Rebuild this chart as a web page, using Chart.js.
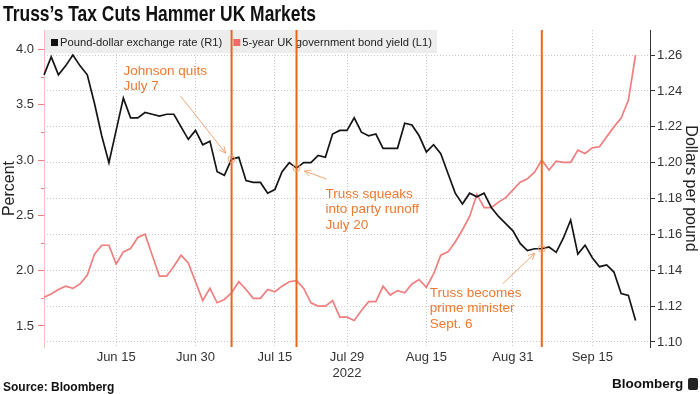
<!DOCTYPE html>
<html>
<head>
<meta charset="utf-8">
<script src="https://cdn.jsdelivr.net/npm/chart.js@4/dist/chart.umd.min.js"></script>
<style>
html,body{margin:0;padding:0;background:#fff;}
#wrap{position:relative;width:700px;height:394px;overflow:hidden;font-family:'Liberation Sans',Arial,sans-serif;}
#c{position:absolute;left:0;top:0;}
#title{position:absolute;left:3px;top:1px;font-weight:bold;font-size:22.5px;color:#111;white-space:nowrap;transform:scaleX(0.775);transform-origin:0 0;}
#source{position:absolute;left:3px;top:380px;font-weight:bold;font-size:12px;color:#111;white-space:nowrap;}
#brand{position:absolute;left:612px;top:376px;font-weight:bold;font-size:13.5px;color:#111;white-space:nowrap;}
#icon{position:absolute;left:688px;top:378px;width:10px;height:12px;background:#222;border-radius:2px;}
</style>
</head>
<body>
<div id="wrap">
<canvas id="c" width="700" height="394"></canvas>
<div id="title">Truss’s Tax Cuts Hammer UK Markets</div>
<div id="source">Source: Bloomberg</div>
<div id="brand">Bloomberg</div>
<div id="icon"></div>
</div>
<script>
// ---- Data ----
const categories = [
 'Jun 1','Jun 2','Jun 3','Jun 6','Jun 7','Jun 8','Jun 9','Jun 10','Jun 13','Jun 14','Jun 15','Jun 16','Jun 17','Jun 20','Jun 21','Jun 22','Jun 23','Jun 24','Jun 27','Jun 28','Jun 29','Jun 30',
 'Jul 1','Jul 4','Jul 5','Jul 6','Jul 7','Jul 8','Jul 11','Jul 12','Jul 13','Jul 14','Jul 15','Jul 18','Jul 19','Jul 20','Jul 21','Jul 22','Jul 25','Jul 26','Jul 27','Jul 28','Jul 29',
 'Aug 1','Aug 2','Aug 3','Aug 4','Aug 5','Aug 8','Aug 9','Aug 10','Aug 11','Aug 12','Aug 15','Aug 16','Aug 17','Aug 18','Aug 19','Aug 22','Aug 23','Aug 24','Aug 25','Aug 26','Aug 29','Aug 30','Aug 31',
 'Sep 1','Sep 2','Sep 5','Sep 6','Sep 7','Sep 8','Sep 9','Sep 12','Sep 13','Sep 14','Sep 15','Sep 16','Sep 19','Sep 20','Sep 21','Sep 22','Sep 23','Sep 26','Sep 27'
];
const poundDollar = [
 1.249,1.259,1.249,1.254,1.260,1.254,1.249,1.233,1.215,1.200,
 1.218,1.236,1.225,1.225,1.228,1.227,1.226,1.227,1.227,1.220,
 1.213,1.218,1.210,1.212,1.195,1.193,1.202,1.203,1.190,1.189,
 1.189,1.183,1.185,1.195,1.200,1.197,1.200,1.200,1.204,1.203,
 1.216,1.218,1.218,1.225,1.217,1.215,1.216,1.208,1.208,1.208,
 1.222,1.221,1.215,1.206,1.210,1.205,1.194,1.183,1.177,1.183,
 1.181,1.183,1.175,1.170,1.166,1.162,1.155,1.151,1.152,1.152,
 1.153,1.150,1.158,1.168,1.149,1.154,1.147,1.142,1.143,1.139,
 1.127,1.126,1.112,null,null
];
const giltYield5y = [
 1.76,1.79,1.83,1.86,1.84,1.88,1.96,2.15,2.23,2.23,
 2.06,2.17,2.20,2.30,2.33,2.14,1.95,1.95,2.04,2.14,
 2.07,1.90,1.73,1.84,1.71,1.74,1.80,1.90,1.83,1.75,
 1.75,1.83,1.81,1.86,1.90,1.91,1.84,1.71,1.68,1.68,
 1.73,1.58,1.58,1.55,1.64,1.72,1.72,1.86,1.78,1.82,
 1.80,1.88,1.92,1.85,1.97,2.14,2.17,2.26,2.37,2.49,
 2.69,2.57,2.57,2.62,2.66,2.73,2.80,2.83,2.89,3.00,
 2.91,2.99,2.98,2.98,3.09,3.06,3.11,3.12,3.21,3.30,
 3.38,3.54,3.95,null,null
];
const xTickLabels = ['Jun 15','Jun 30','Jul 15','Jul 29','Aug 15','Aug 31','Sep 15'];
const yearLabel = {at: 'Jul 29', text: '2022'};
const leftTicks = [1.5, 2.0, 2.5, 3.0, 3.5, 4.0];
const leftMinorTicks = [1.75, 2.25, 2.75, 3.25, 3.75];
const rightTicks = [1.10, 1.12, 1.14, 1.16, 1.18, 1.20, 1.22, 1.24, 1.26];
const eventDates = ['Jul 7', 'Jul 20', 'Sep 6'];
const eventNotes = [['Johnson quits','July 7'], ['Truss squeaks','into party runoff','July 20'], ['Truss becomes','prime minister','Sept. 6']];

// ---- Layout of the notes (pixel offsets from the marked point) ----
const noteLayout = [
  {text: [-108, -88], from: [-51, -63], to: [-6, -6]},
  {text: [29, 26], from: [30, 11], to: [8, 3]},
  {text: [-112, 44.5], from: [-39, 35], to: [-7, 4.5]}
];

const ORANGE = '#e9661f';
const NOTE = '#f0782f';
const ARROW = '#f4a574';
const FONT = "'Liberation Sans', Arial, sans-serif";

const overlay = {
  id: 'overlay',
  beforeDatasetsDraw(chart) {
    const {ctx, chartArea, scales} = chart;
    ctx.save();
    // minor ticks on the left axis
    ctx.strokeStyle = '#f08080'; ctx.lineWidth = 1;
    leftMinorTicks.forEach(v => {
      const y = Math.round(scales.y.getPixelForValue(v)) + 0.5;
      ctx.beginPath(); ctx.moveTo(chartArea.left - 3, y); ctx.lineTo(chartArea.left, y); ctx.stroke();
    });
    // legend box
    ctx.font = '11.2px ' + FONT;
    const items = chart.data.datasets.map(d => ({label: d.label, color: d.legendColor}));
    const x0 = chartArea.left + 1, top = chartArea.top, h = 23;
    let x = x0 + 6;
    const pos = [];
    items.forEach(it => {
      pos.push(x);
      x += 7 + 2 + ctx.measureText(it.label).width + 11;
    });
    const w = x - 11 + 5 - x0;
    ctx.fillStyle = 'rgba(236,236,236,0.95)';
    ctx.fillRect(x0, top, w, h);
    ctx.textBaseline = 'middle';
    items.forEach((it, i) => {
      ctx.fillStyle = it.color;
      ctx.fillRect(pos[i], top + 9, 7, 7);
      ctx.fillStyle = '#222';
      ctx.fillText(it.label, pos[i] + 9, top + 12.5);
    });
    ctx.restore();
  },
  afterDatasetsDraw(chart) {
    const {ctx, chartArea, scales} = chart;
    const xs = scales.x, yr = scales.y1;
    ctx.save();
    eventDates.forEach((d, i) => {
      const idx = categories.indexOf(d);
      const px = xs.getPixelForValue(idx);
      const py = yr.getPixelForValue(poundDollar[idx]);
      ctx.strokeStyle = ORANGE; ctx.lineWidth = 2;
      ctx.beginPath(); ctx.moveTo(px, chartArea.top); ctx.lineTo(px, chartArea.bottom); ctx.stroke();
      ctx.strokeStyle = ARROW; ctx.lineWidth = 1;
      ctx.beginPath(); ctx.arc(px, py, 3.5, 0, Math.PI * 2); ctx.stroke();
      const L = noteLayout[i];
      const sx = px + L.from[0], sy = py + L.from[1], ex = px + L.to[0], ey = py + L.to[1];
      ctx.beginPath(); ctx.moveTo(sx, sy); ctx.lineTo(ex, ey); ctx.stroke();
      const ang = Math.atan2(ey - sy, ex - sx);
      ctx.beginPath();
      ctx.moveTo(ex - 7 * Math.cos(ang - 0.45), ey - 7 * Math.sin(ang - 0.45));
      ctx.lineTo(ex, ey);
      ctx.lineTo(ex - 7 * Math.cos(ang + 0.45), ey - 7 * Math.sin(ang + 0.45));
      ctx.stroke();
      ctx.fillStyle = NOTE; ctx.font = '13.5px ' + FONT; ctx.textBaseline = 'middle'; ctx.textAlign = 'left';
      eventNotes[i].forEach((line, k) => ctx.fillText(line, px + L.text[0], py + L.text[1] + k * 15.5));
    });
    ctx.restore();
  }
};

Chart.defaults.font.family = FONT;
Chart.defaults.font.size = 13;
Chart.defaults.color = '#333';

new Chart(document.getElementById('c'), {
  type: 'line',
  data: {
    labels: categories,
    datasets: [
      {label: 'Pound-dollar exchange rate (R1)', data: poundDollar, yAxisID: 'y1', borderColor: '#151515', legendColor: '#111', borderWidth: 1.7, pointRadius: 0, tension: 0, order: 0},
      {label: '5-year UK government bond yield (L1)', data: giltYield5y, yAxisID: 'y', borderColor: '#f07e7e', legendColor: '#f06a6a', borderWidth: 1.7, pointRadius: 0, tension: 0, order: 1}
    ]
  },
  options: {
    responsive: false, animation: false, devicePixelRatio: 1,
    layout: {padding: {top: 30, left: 0, right: 0, bottom: 0}},
    plugins: {legend: {display: false}, tooltip: {enabled: false}},
    scales: {
      x: {
        type: 'category', offset: false,
        grid: {color: '#c8c8c8', lineWidth: 1, drawTicks: false},
        border: {display: false, dash: [1, 2]},
        ticks: {
          autoSkip: false, maxRotation: 0, minRotation: 0, padding: 3, color: '#333',
          callback(v, i) {
            const lbl = categories[i];
            if (!xTickLabels.includes(lbl)) return null;
            return lbl === yearLabel.at ? [lbl, yearLabel.text] : lbl;
          }
        },
        afterFit(s) { s.height = 47; }
      },
      y: {
        position: 'left', min: 1.31, max: 4.176,
        afterBuildTicks(s) { s.ticks = leftTicks.map(v => ({value: v})); },
        ticks: {callback: v => v.toFixed(1), padding: 4, color: '#333'},
        grid: {drawOnChartArea: false, tickLength: 6, tickColor: '#f08080'},
        border: {color: '#f7bcbc', width: 1},
        title: {display: true, text: 'Percent', font: {size: 16}, padding: 0, color: '#222'},
        afterFit(s) { s.width = 44; }
      },
      y1: {
        position: 'right', min: 1.0972, max: 1.274,
        afterBuildTicks(s) { s.ticks = rightTicks.map(v => ({value: v})); },
        ticks: {callback: v => v.toFixed(2), padding: 2, color: '#333'},
        grid: {drawOnChartArea: true, color: '#c8c8c8', tickLength: 5, tickColor: '#333'},
        border: {color: '#333', width: 1, dash: [1, 2]},
        title: {display: true, text: 'Dollars per pound', font: {size: 16}, padding: 0, color: '#222'},
        afterFit(s) { s.width = 50; }
      }
    }
  },
  plugins: [overlay]
});
</script>
</body>
</html>
